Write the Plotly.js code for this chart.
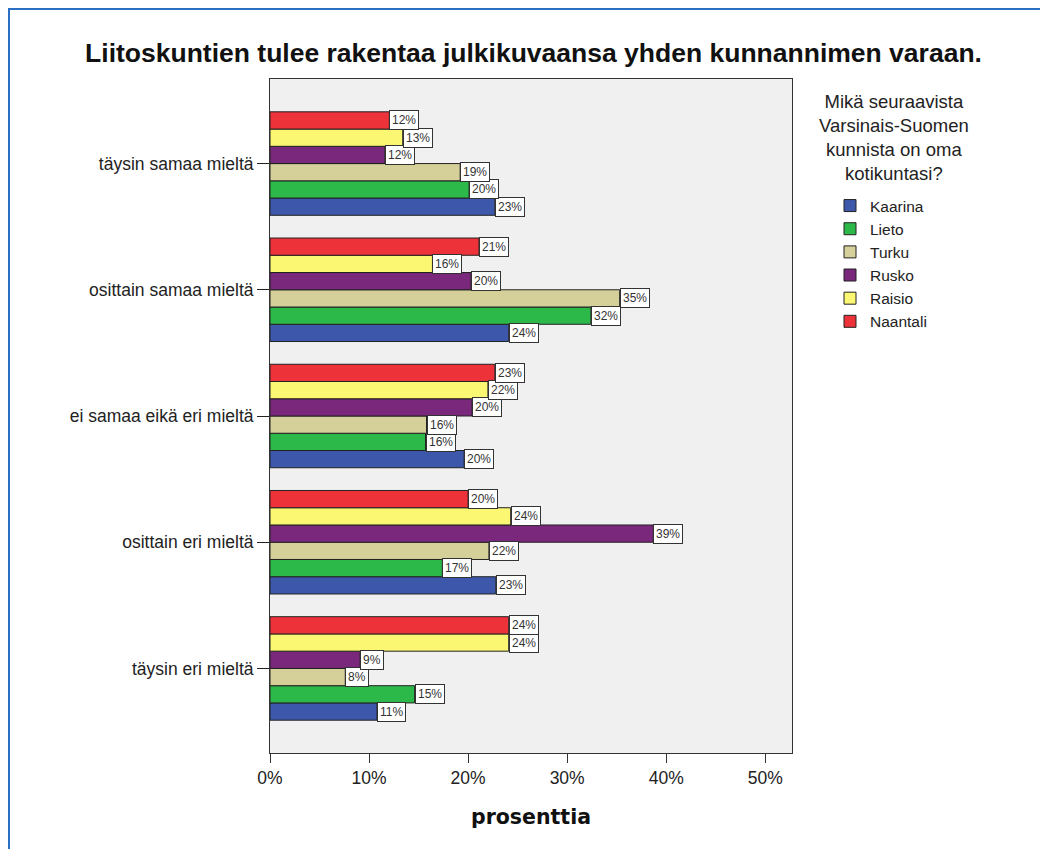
<!DOCTYPE html>
<html>
<head>
<meta charset="utf-8">
<script src="https://cdn.plot.ly/plotly-3.0.1.min.js"></script>
<style>
  html, body { margin: 0; padding: 0; background: #fff; }
  #chart { position: absolute; left: 0; top: 0; width: 1040px; height: 849px; }
  #frame { position: absolute; left: 8px; top: 8px; width: 1100px; height: 900px;
           border-left: 2px solid #2a70c0; border-top: 2px solid #2a70c0; pointer-events: none; }
</style>
</head>
<body>
<div id="chart"></div>
<div id="frame"></div>
<script>
// Categories (top to bottom in the chart)
const categories = ["täysin samaa mieltä", "osittain samaa mieltä", "ei samaa eikä eri mieltä", "osittain eri mieltä", "täysin eri mieltä"];

// Series (percent), in category order above
const kaarina  = [22.7, 24.1, 19.6, 22.8, 10.8];
const lieto    = [20.1, 32.4, 15.7, 17.4, 14.6];
const turku    = [19.2, 35.3, 15.8, 22.1, 7.6];
const rusko    = [11.6, 20.3, 20.4, 38.7, 9.1];
const raisio   = [13.4, 16.4, 22.0, 24.3, 24.1];
const naantali = [12.05, 21.1, 22.7, 20.0, 24.1];

const seriesNames = ["Kaarina", "Lieto", "Turku", "Rusko", "Raisio", "Naantali"];
const seriesValues = [kaarina, lieto, turku, rusko, raisio, naantali];
const seriesColors = ["#3D58AB", "#2DB84A", "#D5CF9A", "#7A287C", "#FBF772", "#EE3239"];

const xTickVals = [0, 10, 20, 30, 40, 50];
const xTickText = ["0%", "10%", "20%", "30%", "40%", "50%"];

const titleText = "Liitoskuntien tulee rakentaa julkikuvaansa yhden kunnannimen varaan.";
const legendTitle = "Mikä seuraavista<br>Varsinais-Suomen<br>kunnista on oma<br>kotikuntasi?";
const xTitle = "prosenttia";

const FONT = "Liberation Sans, Arial, sans-serif";
const margin = {l: 270, r: 248, t: 79, b: 96};
const H = 849, W = 1040;
const yRange = [-0.67, 4.67];
const bargap = 0.18;

const traces = seriesNames.map((name, i) => ({
  type: "bar",
  orientation: "h",
  name: name,
  x: seriesValues[i],
  y: categories,
  marker: {color: seriesColors[i], line: {color: "#222", width: 1}},
  hoverinfo: "x+y+name"
}));

// bar label boxes
const plotH = H - margin.t - margin.b;
const plotW = W - margin.l - margin.r;
const unitPx = plotH / (yRange[1] - yRange[0]);
const barPx = unitPx * (1 - bargap) / seriesNames.length;
const annotations = [];
seriesValues.forEach((vals, i) => {
  vals.forEach((v, j) => {
    annotations.push({
      x: v, y: categories[j], xref: "x", yref: "y",
      text: Math.round(v) + "%",
      showarrow: false, xanchor: "left", yanchor: "middle",
      yshift: (i - (seriesNames.length - 1) / 2) * barPx,
      font: {family: FONT, size: 12, color: "#333"},
      bgcolor: "#fff", bordercolor: "#333", borderwidth: 1, borderpad: 2
    });
  });
});
annotations.push({
  xref: "paper", yref: "paper", x: (894 - margin.l) / plotW, y: 1 + (79 - 89) / plotH,
  xanchor: "center", yanchor: "top", showarrow: false, align: "center",
  text: legendTitle,
  font: {family: FONT, size: 18.5, color: "#222"}
});

const layout = {
  width: W, height: H,
  margin: margin,
  paper_bgcolor: "#fff",
  plot_bgcolor: "#F0F0F0",
  barmode: "group",
  bargap: bargap,
  bargroupgap: 0,
  title: {
    text: "<b>" + titleText + "</b>",
    x: 0.513, xanchor: "center", y: 1 - 53 / H, yanchor: "middle",
    font: {family: FONT, size: 26.5, color: "#111"}
  },
  xaxis: {
    range: [0, 52.7],
    tickvals: xTickVals, ticktext: xTickText,
    ticks: "outside", ticklen: 9, tickcolor: "#333", tickwidth: 1,
    showgrid: false, zeroline: false,
    showline: true, mirror: true, linecolor: "#333", linewidth: 1,
    tickfont: {family: FONT, size: 17.5, color: "#222"},
    title: {text: "<b>" + xTitle + "</b>", standoff: 22,
            font: {family: "DejaVu Sans, sans-serif", size: 20.5, color: "#111"}},
    fixedrange: true
  },
  yaxis: {
    type: "category",
    categoryorder: "array",
    categoryarray: categories.slice().reverse(),
    range: yRange,
    ticks: "outside", ticklen: 12, tickcolor: "#222", tickwidth: 1,
    showgrid: false, zeroline: false,
    showline: true, mirror: true, linecolor: "#333", linewidth: 1,
    tickfont: {family: FONT, size: 17.5, color: "#222"},
    fixedrange: true
  },
  legend: {
    x: 1 + (830 - 792) / plotW, xanchor: "left",
    y: 1 - (189 - 79) / plotH, yanchor: "top",
    bgcolor: "rgba(0,0,0,0)",
    font: {family: FONT, size: 15.5, color: "#222"},
    traceorder: "normal",
    itemclick: false, itemdoubleclick: false
  },
  annotations: annotations,
  showlegend: true
};

Plotly.newPlot("chart", traces, layout, {displayModeBar: false, staticPlot: true});
</script>
</body>
</html>
